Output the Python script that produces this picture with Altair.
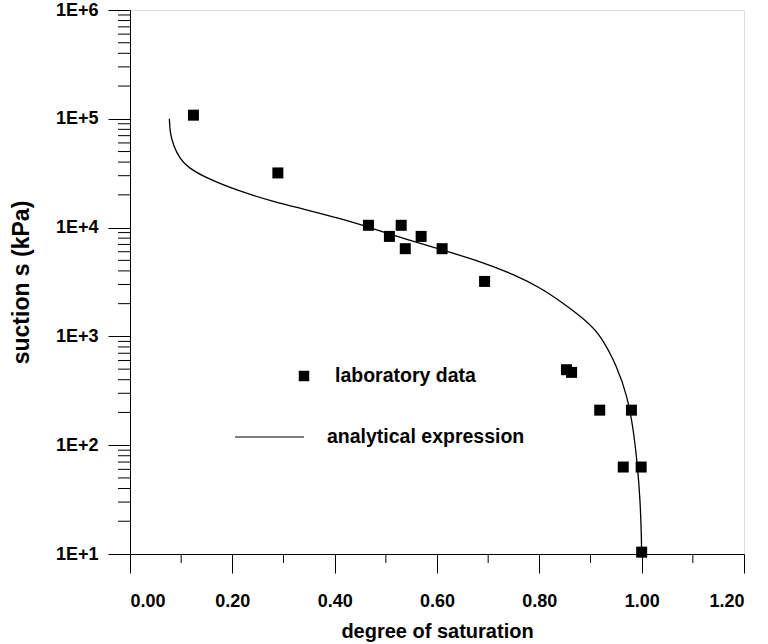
import altair as alt
import pandas as pd

# ---------------- data ----------------
lab_sat = [0.124, 0.289, 0.466, 0.530, 0.507, 0.569, 0.538, 0.610, 0.693,
           0.853, 0.863, 0.918, 0.980, 0.964, 0.999, 1.000]
lab_suction = [1.08e5, 3.18e4, 1.05e4, 1.05e4, 8.3e3, 8.3e3, 6.4e3, 6.4e3, 3.2e3,
               494, 467, 210, 210, 63, 63, 10.4]

curve_sat = [0.077, 0.078, 0.085, 0.098, 0.114, 0.147, 0.212, 0.277, 0.342, 0.411,
             0.476, 0.541, 0.607, 0.691, 0.750, 0.802, 0.841, 0.894, 0.920, 0.952,
             0.972, 0.984, 0.992, 0.997, 0.9994, 1.000]
curve_suction = [1.0e5, 7.48e4, 5.63e4, 4.25e4, 3.56e4, 2.88e4, 2.17e4, 1.75e4, 1.47e4, 1.21e4,
                 9.77e3, 7.79e3, 6.3e3, 4.78e3, 3.71e3, 2.8e3, 2.11e3, 1.37e3, 1.02e3, 531,
                 281, 139, 63.7, 31.4, 15.5, 10.0]

x_major = [0.0, 0.2, 0.4, 0.6, 0.8, 1.0, 1.2]
x_minor = [0.1, 0.3, 0.5, 0.7, 0.9, 1.1]
y_major = [1e1, 1e2, 1e3, 1e4, 1e5, 1e6]
y_minor = [m * d for d in [1e1, 1e2, 1e3, 1e4, 1e5] for m in range(2, 10)]

legend_labels = ["laboratory data", "analytical expression"]

# ---------------- tables ----------------
lab_df = pd.DataFrame({"sat": lab_sat, "s": lab_suction})
curve_df = pd.DataFrame({"sat": curve_sat, "s": curve_suction,
                         "i": list(range(len(curve_sat)))})
xminor_df = pd.DataFrame({"v": x_minor})
yminor_df = pd.DataFrame({"v": y_minor})

FONT = "Liberation Sans"

xscale = alt.Scale(domain=[0, 1.2], nice=False, zero=False)
yscale = alt.Scale(type="log", domain=[10, 1e6], nice=False)

x_axis = alt.Axis(values=x_major, format=".2f", tickSize=19, labelPadding=19,
                  labelFontSize=18, labelFontWeight="bold", labelFont=FONT,
                  title="degree of saturation", titleFontSize=20,
                  titleFontWeight="bold", titleFont=FONT, titlePadding=11,
                  grid=False, domainColor="black", tickColor="black",
                  labelColor="black", titleColor="black")
y_axis = alt.Axis(values=y_major,
                  labelExpr="'1E+' + round(log(datum.value)/LN10)",
                  tickSize=22, labelPadding=10, labelFontSize=18,
                  labelFontWeight="bold", labelFont=FONT,
                  title="suction s (kPa)", titleFontSize=23,
                  titleFontWeight="bold", titleFont=FONT, titlePadding=22,
                  grid=False, domainColor="black", tickColor="black",
                  labelColor="black", titleColor="black")

curve = alt.Chart(curve_df).mark_line(color="black", strokeWidth=1.3,
                                      interpolate="basis").encode(
    x=alt.X("sat:Q", scale=xscale, axis=x_axis),
    y=alt.Y("s:Q", scale=yscale, axis=y_axis),
    order="i:Q",
)

points = alt.Chart(lab_df).mark_square(size=121, color="black", opacity=1).encode(
    x=alt.X("sat:Q", scale=xscale),
    y=alt.Y("s:Q", scale=yscale),
)

yminor = alt.Chart(yminor_df).mark_rule(color="black", strokeWidth=1).encode(
    y=alt.Y("v:Q", scale=yscale),
    x=alt.value(-12), x2=alt.value(0),
)
xminor = alt.Chart(xminor_df).mark_rule(color="black", strokeWidth=1).encode(
    x=alt.X("v:Q", scale=xscale),
    y=alt.value(544), y2=alt.value(553),
)

leg1_sym = alt.Chart(pd.DataFrame({"l": [legend_labels[0]]})).mark_square(
    size=110, color="black", opacity=1).encode(x=alt.value(174), y=alt.value(366))
leg1_txt = alt.Chart(pd.DataFrame({"l": [legend_labels[0]]})).mark_text(
    align="left", baseline="middle", fontSize=19.5, fontWeight="bold", font=FONT,
    color="black").encode(x=alt.value(205), y=alt.value(366), text="l:N")
leg2_sym = alt.Chart(pd.DataFrame({"l": [legend_labels[1]]})).mark_rule(
    color="black", strokeWidth=1.2).encode(x=alt.value(105), x2=alt.value(174),
                                           y=alt.value(427))
leg2_txt = alt.Chart(pd.DataFrame({"l": [legend_labels[1]]})).mark_text(
    align="left", baseline="middle", fontSize=19.5, fontWeight="bold", font=FONT,
    color="black").encode(x=alt.value(197), y=alt.value(427), text="l:N")

chart = alt.layer(
    curve, points, yminor, xminor, leg1_sym, leg1_txt, leg2_sym, leg2_txt
).properties(
    width=614, height=544,
    autosize=alt.AutoSizeParams(type="none"),
    padding={"left": 130, "top": 10, "right": 24, "bottom": 90},
).configure_view(
    stroke="black", strokeWidth=1
).configure(background="white")

chart.save("out.html", embed_options={"renderer": "svg", "actions": False})
